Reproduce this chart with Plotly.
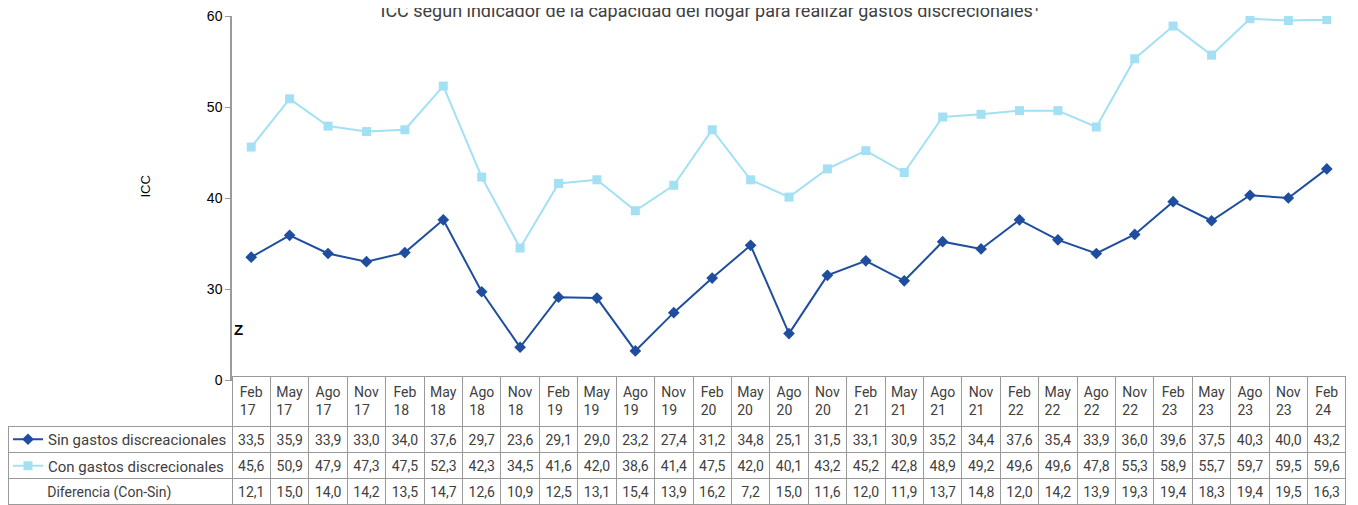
import plotly.graph_objects as go

meses = ["Feb", "May", "Ago", "Nov"] * 7 + ["Feb"]
anios = ["17", "17", "17", "17", "18", "18", "18", "18", "19", "19", "19", "19",
         "20", "20", "20", "20", "21", "21", "21", "21", "22", "22", "22", "22",
         "23", "23", "23", "23", "24"]
sin_gastos = [33.5, 35.9, 33.9, 33.0, 34.0, 37.6, 29.7, 23.6, 29.1, 29.0, 23.2, 27.4, 31.2, 34.8, 25.1,
              31.5, 33.1, 30.9, 35.2, 34.4, 37.6, 35.4, 33.9, 36.0, 39.6, 37.5, 40.3, 40.0, 43.2]
con_gastos = [45.6, 50.9, 47.9, 47.3, 47.5, 52.3, 42.3, 34.5, 41.6, 42.0, 38.6, 41.4, 47.5, 42.0, 40.1,
              43.2, 45.2, 42.8, 48.9, 49.2, 49.6, 49.6, 47.8, 55.3, 58.9, 55.7, 59.7, 59.5, 59.6]
diferencia = [12.1, 15.0, 14.0, 14.2, 13.5, 14.7, 12.6, 10.9, 12.5, 13.1, 15.4, 13.9, 16.2, 7.2, 15.0,
              11.6, 12.0, 11.9, 13.7, 14.8, 12.0, 14.2, 13.9, 19.3, 19.4, 18.3, 19.4, 19.5, 16.3]
y_ticks = [20, 30, 40, 50, 60]
y_ticktext = ["0", "30", "40", "50", "60"]

azul = "#1f4e9f"
celeste = "#a3e0f4"
gris = "#404040"
borde = "#9a9a9a"
W, H = 1358, 505
# la pagina deja 8px de margen arriba y a la izquierda
D = 8

categorias = [m + " " + a for m, a in zip(meses, anios)]


def fmt(v):
    return f"{v:.1f}".replace(".", ",")


def px(x):
    return (x - D) / W


def py(y):
    return (H - (y - D)) / H


fig = go.Figure()

# la leyenda hace de simbolo en la primera columna de la tabla
fig.add_trace(go.Scatter(x=categorias, y=sin_gastos, mode="lines+markers", name="Sin gastos discreacionales",
                         legendgroup="a", line=dict(color=azul, width=2),
                         marker=dict(symbol="diamond", size=9, color=azul)))
fig.add_trace(go.Scatter(x=categorias, y=con_gastos, mode="lines+markers", name="Con gastos discrecionales",
                         legendgroup="b", line=dict(color=celeste, width=2),
                         marker=dict(symbol="square", size=9, color=celeste)))

etiquetas = ["", "", "\u00a0" * 9 + "Diferencia (Con-Sin)"]
columnas = [etiquetas] + [[fmt(a), fmt(b), fmt(c)] for a, b, c in zip(sin_gastos, con_gastos, diferencia)]
encabezados = [""] + [m + "<br>" + a for m, a in zip(meses, anios)]

fig.add_trace(go.Table(
    domain=dict(x=[px(8), px(1346)], y=[py(505), py(376)]),
    columnwidth=[224] + [38.4] * len(categorias),
    header=dict(values=encabezados, height=46, align="center",
                fill_color=["rgba(0,0,0,0)"] + ["white"] * len(categorias),
                line=dict(color=["rgba(0,0,0,0)"] + [borde] * len(categorias), width=1),
                font=dict(family="Roboto", size=14, color=gris)),
    cells=dict(values=columnas, height=26, align=["left"] + ["center"] * len(categorias),
               fill_color="white", line=dict(color=borde, width=1),
               font=dict(family="Roboto", size=14, color=gris)),
))

fig.add_annotation(text="<b>Z</b>", x=px(232), xref="paper", y=25.6, yref="y", showarrow=False,
                   font=dict(family="Liberation Sans", size=15, color="black"))
fig.add_annotation(text="ICC", x=px(135), xref="paper", y=py(187), yref="paper", showarrow=False,
                   textangle=-90, font=dict(family="Liberation Sans", size=13, color="black"))

fig.update_layout(
    width=W, height=H,
    margin=dict(l=0, r=0, t=0, b=0),
    paper_bgcolor="white", plot_bgcolor="white",
    showlegend=True,
    legend=dict(x=px(8), xanchor="left", y=py(423), yanchor="top", tracegroupgap=4,
                bgcolor="rgba(0,0,0,0)", font=dict(family="Roboto", size=15, color=gris)),
    title=dict(text="ICC según indicador de la capacidad del hogar para realizar gastos discrecionales¹",
               x=px(710), xanchor="center", y=1 - 3 / H, yanchor="middle", yref="container",
               font=dict(family="Roboto", size=18, color=gris)),
    xaxis=dict(domain=[px(232), px(1346)], range=[-0.5, len(categorias) - 0.5], showticklabels=False,
               showgrid=False, showline=True, linecolor=borde, ticks="", zeroline=False, automargin=False),
    yaxis=dict(domain=[py(380), py(16)], range=[20, 60], tickvals=y_ticks, ticktext=y_ticktext,
               showgrid=False, showline=True, linecolor=borde, linewidth=1.5, ticks="outside", ticklen=5,
               tickcolor=borde, zeroline=False, automargin=False, ticklabeloverflow="allow",
               tickfont=dict(family="Liberation Sans", size=14, color="black")),
)

fig.write_html("out.html")
